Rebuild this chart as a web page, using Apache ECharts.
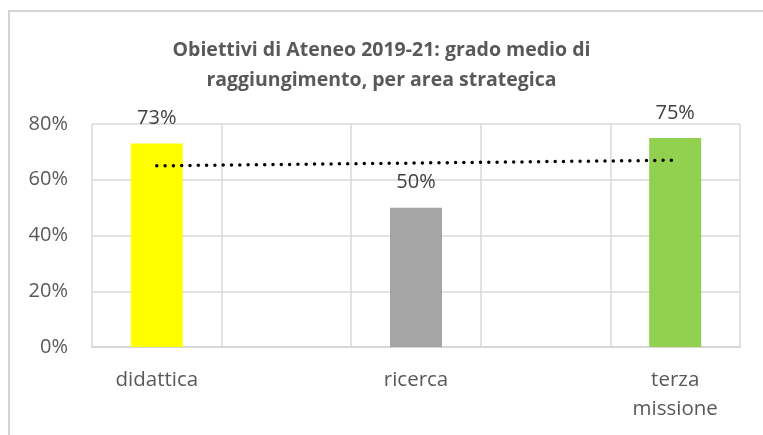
<!DOCTYPE html>
<html>
<head>
<meta charset="utf-8">
<script src="https://cdn.jsdelivr.net/npm/echarts@6/dist/echarts.min.js"></script>
<style>
  html, body { margin: 0; padding: 0; background: #fff; }
  #chart { width: 763px; height: 435px; }
</style>
</head>
<body>
<div id="chart"></div>
<script>
// aree strategiche (gli slot vuoti tengono lo spazio tra le colonne)
var categories = ['didattica', '', 'ricerca', '', 'terza\nmissione'];
var values = [73, null, 50, null, 75];
var barColors = ['#FFFF00', null, '#A5A5A5', null, '#92D050'];
// linea di tendenza
var trend = [65, null, 66, null, 67];
var yTicks = [0, 20, 40, 60, 80];

var chart = echarts.init(document.getElementById('chart'));

var option = {
  animation: false,
  backgroundColor: '#fff',
  textStyle: { fontFamily: 'Open Sans' },
  graphic: [{
    type: 'rect',
    shape: { x: 9, y: 11, width: 800, height: 500 },
    style: { fill: 'none', stroke: '#d4d4d4', lineWidth: 2 }
  }],
  title: {
    text: 'Obiettivi di Ateneo 2019-21: grado medio di\nraggiungimento, per area strategica',
    left: 'center',
    top: 30,
    textStyle: {
      color: '#595959',
      fontSize: 19.5,
      fontWeight: 'bold',
      lineHeight: 30
    }
  },
  grid: {
    left: 92,
    right: 23,
    top: 124,
    bottom: 88,
    containLabel: false
  },
  xAxis: {
    type: 'category',
    data: categories,
    axisLine: { lineStyle: { color: '#d4d4d4', width: 1.5 } },
    axisTick: { show: false },
    splitLine: {
      show: true,
      interval: 0,
      lineStyle: { color: '#d9d9d9', width: 1.5 }
    },
    axisLabel: {
      interval: 0,
      color: '#595959',
      fontSize: 20.5,
      lineHeight: 29,
      margin: 19
    }
  },
  yAxis: {
    type: 'value',
    min: yTicks[0],
    max: yTicks[yTicks.length - 1],
    interval: 20,
    axisLine: { show: false },
    axisTick: { show: false },
    splitLine: { lineStyle: { color: '#d9d9d9', width: 1.5 } },
    axisLabel: {
      color: '#595959',
      fontSize: 20,
      margin: 24,
      formatter: function (v) { return v + '%'; }
    }
  },
  series: [
    {
      type: 'bar',
      barWidth: 52,
      data: values.map(function (v, i) {
        return { value: v, itemStyle: { color: barColors[i] } };
      }),
      label: {
        show: true,
        position: 'top',
        distance: 15,
        color: '#404040',
        fontSize: 20,
        formatter: function (p) { return p.value + '%'; }
      }
    },
    {
      type: 'line',
      data: trend,
      connectNulls: true,
      showSymbol: false,
      symbol: 'none',
      z: 5,
      lineStyle: {
        color: '#000',
        width: 3.5,
        type: [0, 8.3],
        cap: 'round'
      }
    }
  ]
};

chart.setOption(option);
</script>
</body>
</html>
